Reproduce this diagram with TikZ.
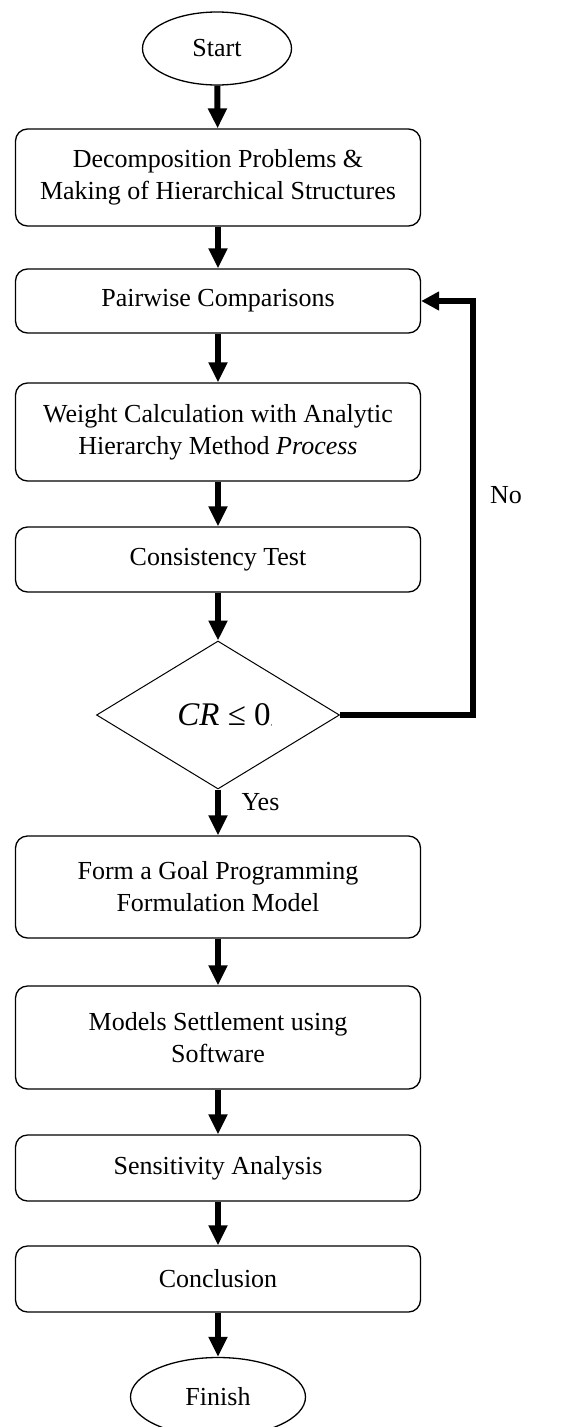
\documentclass[tikz,border=0pt]{standalone}
\usepackage{fontspec}
\setmainfont{Liberation Serif}
\usepackage{tikz}
\usetikzlibrary{shapes.geometric,arrows.meta}

\begin{document}
\begin{tikzpicture}[x=1pt, y=-1pt,
    every node/.style={font=\fontsize{26}{32}\selectfont},
    stepbox/.style={draw, line width=1.3pt, rounded corners=12pt, minimum width=405pt, align=center, inner sep=0pt},
    terminal/.style={draw, ellipse, line width=1.3pt, inner sep=0pt},
    decision/.style={draw, diamond, line width=1pt, aspect=1.64, minimum width=243pt, minimum height=148pt, inner sep=0pt},
    flow/.style={line width=6pt, -{Triangle[length=20pt,width=18pt]}},
    loopback/.style={line width=5.5pt, -{Triangle[length=18pt,width=18pt]}}]

        \useasboundingbox (0,0) rectangle (560,1427);                                  %

        \node [terminal, minimum width=149pt, minimum height=73pt] (start)  at (217,48.5)  {Start};  %
        \node [stepbox, minimum height=97pt]  (decomp)   at (218,177.5) {Decomposition Problems \&\\Making of Hierarchical Structures};
        \node [stepbox, minimum height=64pt]  (pairwise) at (218,301)   {Pairwise Comparisons};     %
        \node [stepbox, minimum height=98pt]  (weight)   at (218,432)   {Weight Calculation with Analytic\\Hierarchy Method \textit{Process}};
        \node [stepbox, minimum height=65pt]  (consist)  at (218,559.5) {Consistency Test};         %
        \node [decision, font=\fontsize{33}{40}\selectfont] (crtest) at (218,715) {\hspace*{14pt}\textit{CR} ≤ 0{\fontsize{7}{7}\selectfont,}};
        \node [stepbox, minimum height=102pt] (goal)     at (218,887)   {Form a Goal Programming\\Formulation Model};
        \node [stepbox, minimum height=103pt] (models)   at (218,1037.5){Models Settlement using\\Software};
        \node [stepbox, minimum height=66pt]  (sens)     at (218,1168)  {Sensitivity Analysis};     %
        \node [stepbox, minimum height=66pt]  (concl)    at (218,1279)  {Conclusion};               %
        \node [terminal, minimum width=175pt, minimum height=79pt] (finish) at (218,1397) {Finish}; %

        \draw [flow] (start)    -- (decomp);                                          %
        \draw [flow] (decomp)   -- (pairwise);                                        %
        \draw [flow] (pairwise) -- (weight);                                          %
        \draw [flow] (weight)   -- (consist);                                         %
        \draw [flow] (consist)  -- (crtest);                                          %
        \draw [flow] (crtest)   -- (goal);                                            %Yes
        \node [anchor=west] (yeslabel) at (238,802) {Yes};                            %
        \draw [flow] (goal)     -- (models);                                          %
        \draw [flow] (models)   -- (sens);                                            %
        \draw [flow] (sens)     -- (concl);                                           %
        \draw [flow] (concl)    -- (finish);                                          %

        \coordinate (noturn) at (473,715);                                            %No
        \draw [loopback] (crtest.east) -- (noturn) |- (pairwise.east);                %
        \node (nolabel) at (506,495) {No};                                            %
\end{tikzpicture}
\end{document}
